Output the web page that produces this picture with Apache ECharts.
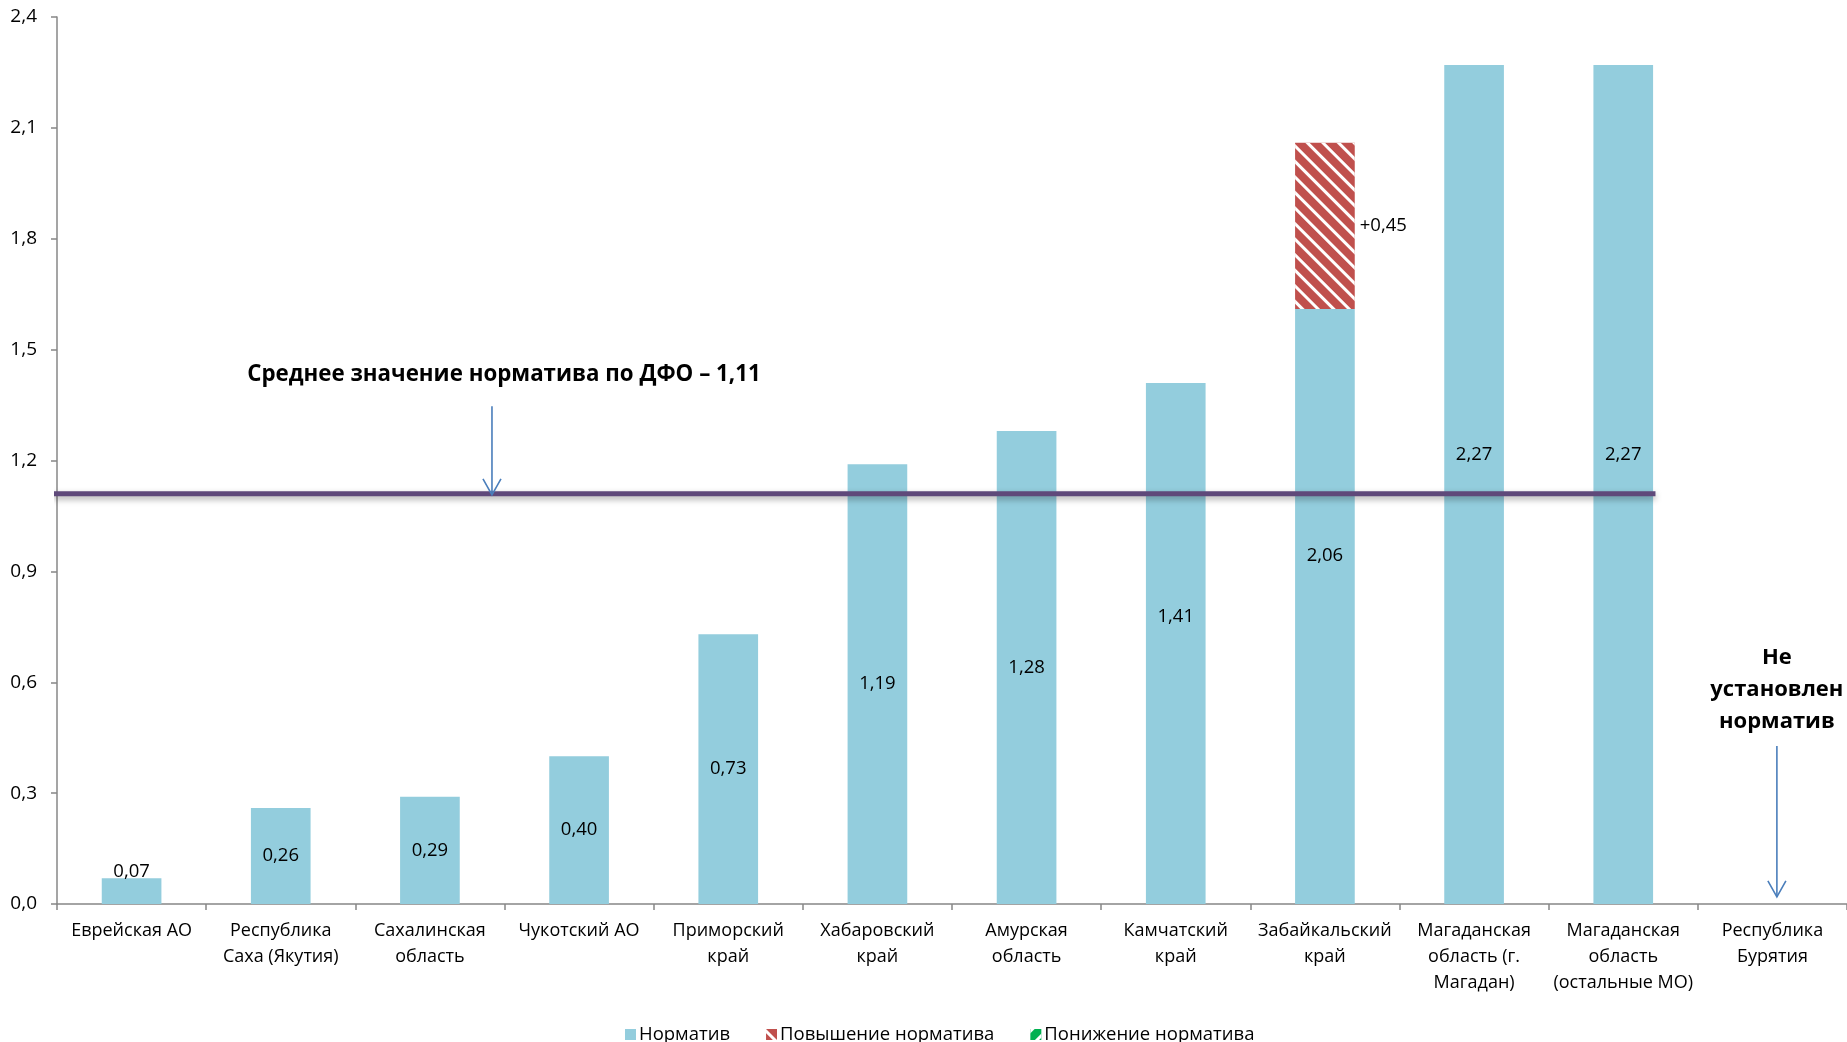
<!DOCTYPE html>
<html>
<head>
<meta charset="utf-8">
<script src="https://cdn.jsdelivr.net/npm/echarts@6/dist/echarts.min.js"></script>
<style>
  html, body { margin: 0; padding: 0; background: #fff; }
  #chart { width: 1847px; height: 1042px; }
</style>
</head>
<body>
<div id="chart"></div>
<script>
// ---- data ----
const categories = [
  'Еврейская АО',
  'Республика\nСаха (Якутия)',
  'Сахалинская\nобласть',
  'Чукотский АО',
  'Приморский\nкрай',
  'Хабаровский\nкрай',
  'Амурская\nобласть',
  'Камчатский\nкрай',
  'Забайкальский\nкрай',
  'Магаданская\nобласть (г.\nМагадан)',
  'Магаданская\nобласть\n(остальные МО)',
  'Республика\nБурятия'
];
const normValues     = [0.07, 0.26, 0.29, 0.40, 0.73, 1.19, 1.28, 1.41, 1.61, 2.27, 2.27, null];
const increaseValues = [null, null, null, null, null, null, null, null, 0.45, null, null, null];
const decreaseValues = [null, null, null, null, null, null, null, null, null, null, null, null];
const seriesNames = ['Норматив', 'Повышение норматива', 'Понижение норматива'];
const avgValue = 1.11;
const avgLineSpan = [-0.525, 10.216];          // category-index units
const arrows = [[2.416, 1.347, 1.107], [11.03, 0.4275, 0.019]]; // [x, yFrom, yTo]
const arrowTexts = ['Среднее значение норматива по ДФО – 1,11', 'Не\nустановлен\nнорматив'];
const yMin = 0, yMax = 2.4, yInterval = 0.3;

// ---- styles ----
const FONT = '"Open Sans", "Noto Sans", sans-serif';
const fmt = v => v.toFixed(2).replace('.', ',');
const labelOffsets = { 7: -27, 8: -51, 9: -30, 10: -30 };

const normData = normValues.map((v, i) => {
  const item = { value: v };
  if (i === 0) {
    item.label = { position: 'top', distance: -3 };
  } else if (labelOffsets[i] !== undefined) {
    item.label = { offset: [0, labelOffsets[i]] };
  }
  return item;
});

const chart = echarts.init(document.getElementById('chart'), null, { renderer: 'canvas' });

const option = {
  backgroundColor: '#ffffff',
  animation: false,
  textStyle: { fontFamily: FONT },
  grid: { left: 57, top: 17, width: 1791, height: 887, containLabel: false },
  legend: {
    data: seriesNames,
    left: 620,
    top: 1020,
    itemWidth: 11,
    itemHeight: 11,
    itemGap: 36,
    icon: 'rect',
    textStyle: { fontSize: 18.5, color: '#000', fontFamily: FONT, padding: [0, 0, 0, -2] }
  },
  xAxis: [
    {
      type: 'category',
      data: categories,
      axisLine: { lineStyle: { color: '#878787', width: 1.5 } },
      axisTick: { show: true, interval: 0, length: 6, lineStyle: { color: '#878787', width: 1.5 } },
      axisLabel: { interval: 0, fontSize: 18, lineHeight: 26, margin: 14, color: '#000', fontFamily: FONT }
    },
    { type: 'value', min: -0.5, max: 11.5, show: false }
  ],
  yAxis: {
    type: 'value',
    min: yMin,
    max: yMax,
    interval: yInterval,
    axisLine: { show: true, onZero: false, lineStyle: { color: '#878787', width: 1.5 } },
    axisTick: { show: true, length: 6, lineStyle: { color: '#878787', width: 1.5 } },
    splitLine: { show: false },
    axisLabel: { fontSize: 19, margin: 20, color: '#000', fontFamily: FONT,
      formatter: v => v.toFixed(1).replace('.', ',') }
  },
  series: [
    {
      name: seriesNames[0], type: 'bar', stack: 'a', barWidth: '40%',
      itemStyle: { color: '#93CDDD' },
      label: {
        show: true, position: 'inside', fontSize: 18.5, color: '#000', fontFamily: FONT,
        formatter: p => {
          const inc = increaseValues[p.dataIndex];
          return fmt(inc != null ? p.value + inc : p.value);
        }
      },
      data: normData
    },
    {
      name: seriesNames[1], type: 'bar', stack: 'a', barWidth: '40%',
      itemStyle: {
        color: '#C0504D',
        decal: { symbol: 'rect', symbolSize: 1, dashArrayX: [1, 0], dashArrayY: [3, 8], rotation: Math.PI / 4, color: '#ffffff' }
      },
      label: {
        show: true, position: 'right', distance: 5, fontSize: 18.5, color: '#000', fontFamily: FONT,
        formatter: p => '+' + fmt(p.value)
      },
      data: increaseValues
    },
    {
      name: seriesNames[2], type: 'bar', stack: 'a', barWidth: '40%',
      itemStyle: {
        color: '#00B050',
        decal: { symbol: 'rect', symbolSize: 1, dashArrayX: [1, 0], dashArrayY: [3, 8], rotation: -Math.PI / 4, color: '#ffffff' }
      },
      data: decreaseValues
    },
    {
      name: 'avg', type: 'line', xAxisIndex: 1, yAxisIndex: 0, symbol: 'none', z: 5,
      lineStyle: { color: '#5F497A', width: 5, shadowColor: 'rgba(0,0,0,0.35)', shadowBlur: 6, shadowOffsetY: 3 },
      data: [[avgLineSpan[0], avgValue], [avgLineSpan[1], avgValue]]
    },
    {
      name: 'arrows', type: 'custom', xAxisIndex: 1, yAxisIndex: 0, z: 6,
      encode: { x: 0, y: [1, 2] },
      data: arrows,
      renderItem: (params, api) => {
        const x = api.value(0), yFrom = api.value(1), yTo = api.value(2);
        const p1 = api.coord([x, yFrom]);
        const p2 = api.coord([x, yTo]);
        const stroke = '#4A7EBB';
        const children = [
          { type: 'line', shape: { x1: p1[0], y1: p1[1], x2: p2[0], y2: p2[1] },
            style: { stroke, lineWidth: 1.6 } },
          { type: 'polyline', shape: { points: [[p2[0] - 9, p2[1] - 16], [p2[0], p2[1]], [p2[0] + 9, p2[1] - 16]] },
            style: { stroke, lineWidth: 1.6, fill: null } }
        ];
        if (params.dataIndex === 0) {
          children.push({ type: 'text', x: p1[0] + 12, y: p1[1] - 32,
            style: { text: arrowTexts[0], fontFamily: FONT, fontWeight: 'bold', fontSize: 22.3,
              fill: '#000', align: 'center', verticalAlign: 'middle' } });
        } else {
          children.push({ type: 'text', x: p1[0], y: p1[1] - 56,
            style: { text: arrowTexts[1], fontFamily: FONT, fontWeight: 'bold', fontSize: 22, lineHeight: 32,
              fill: '#000', align: 'center', verticalAlign: 'middle' } });
        }
        return { type: 'group', children };
      }
    }
  ]
};
chart.setOption(option);
</script>
</body>
</html>
